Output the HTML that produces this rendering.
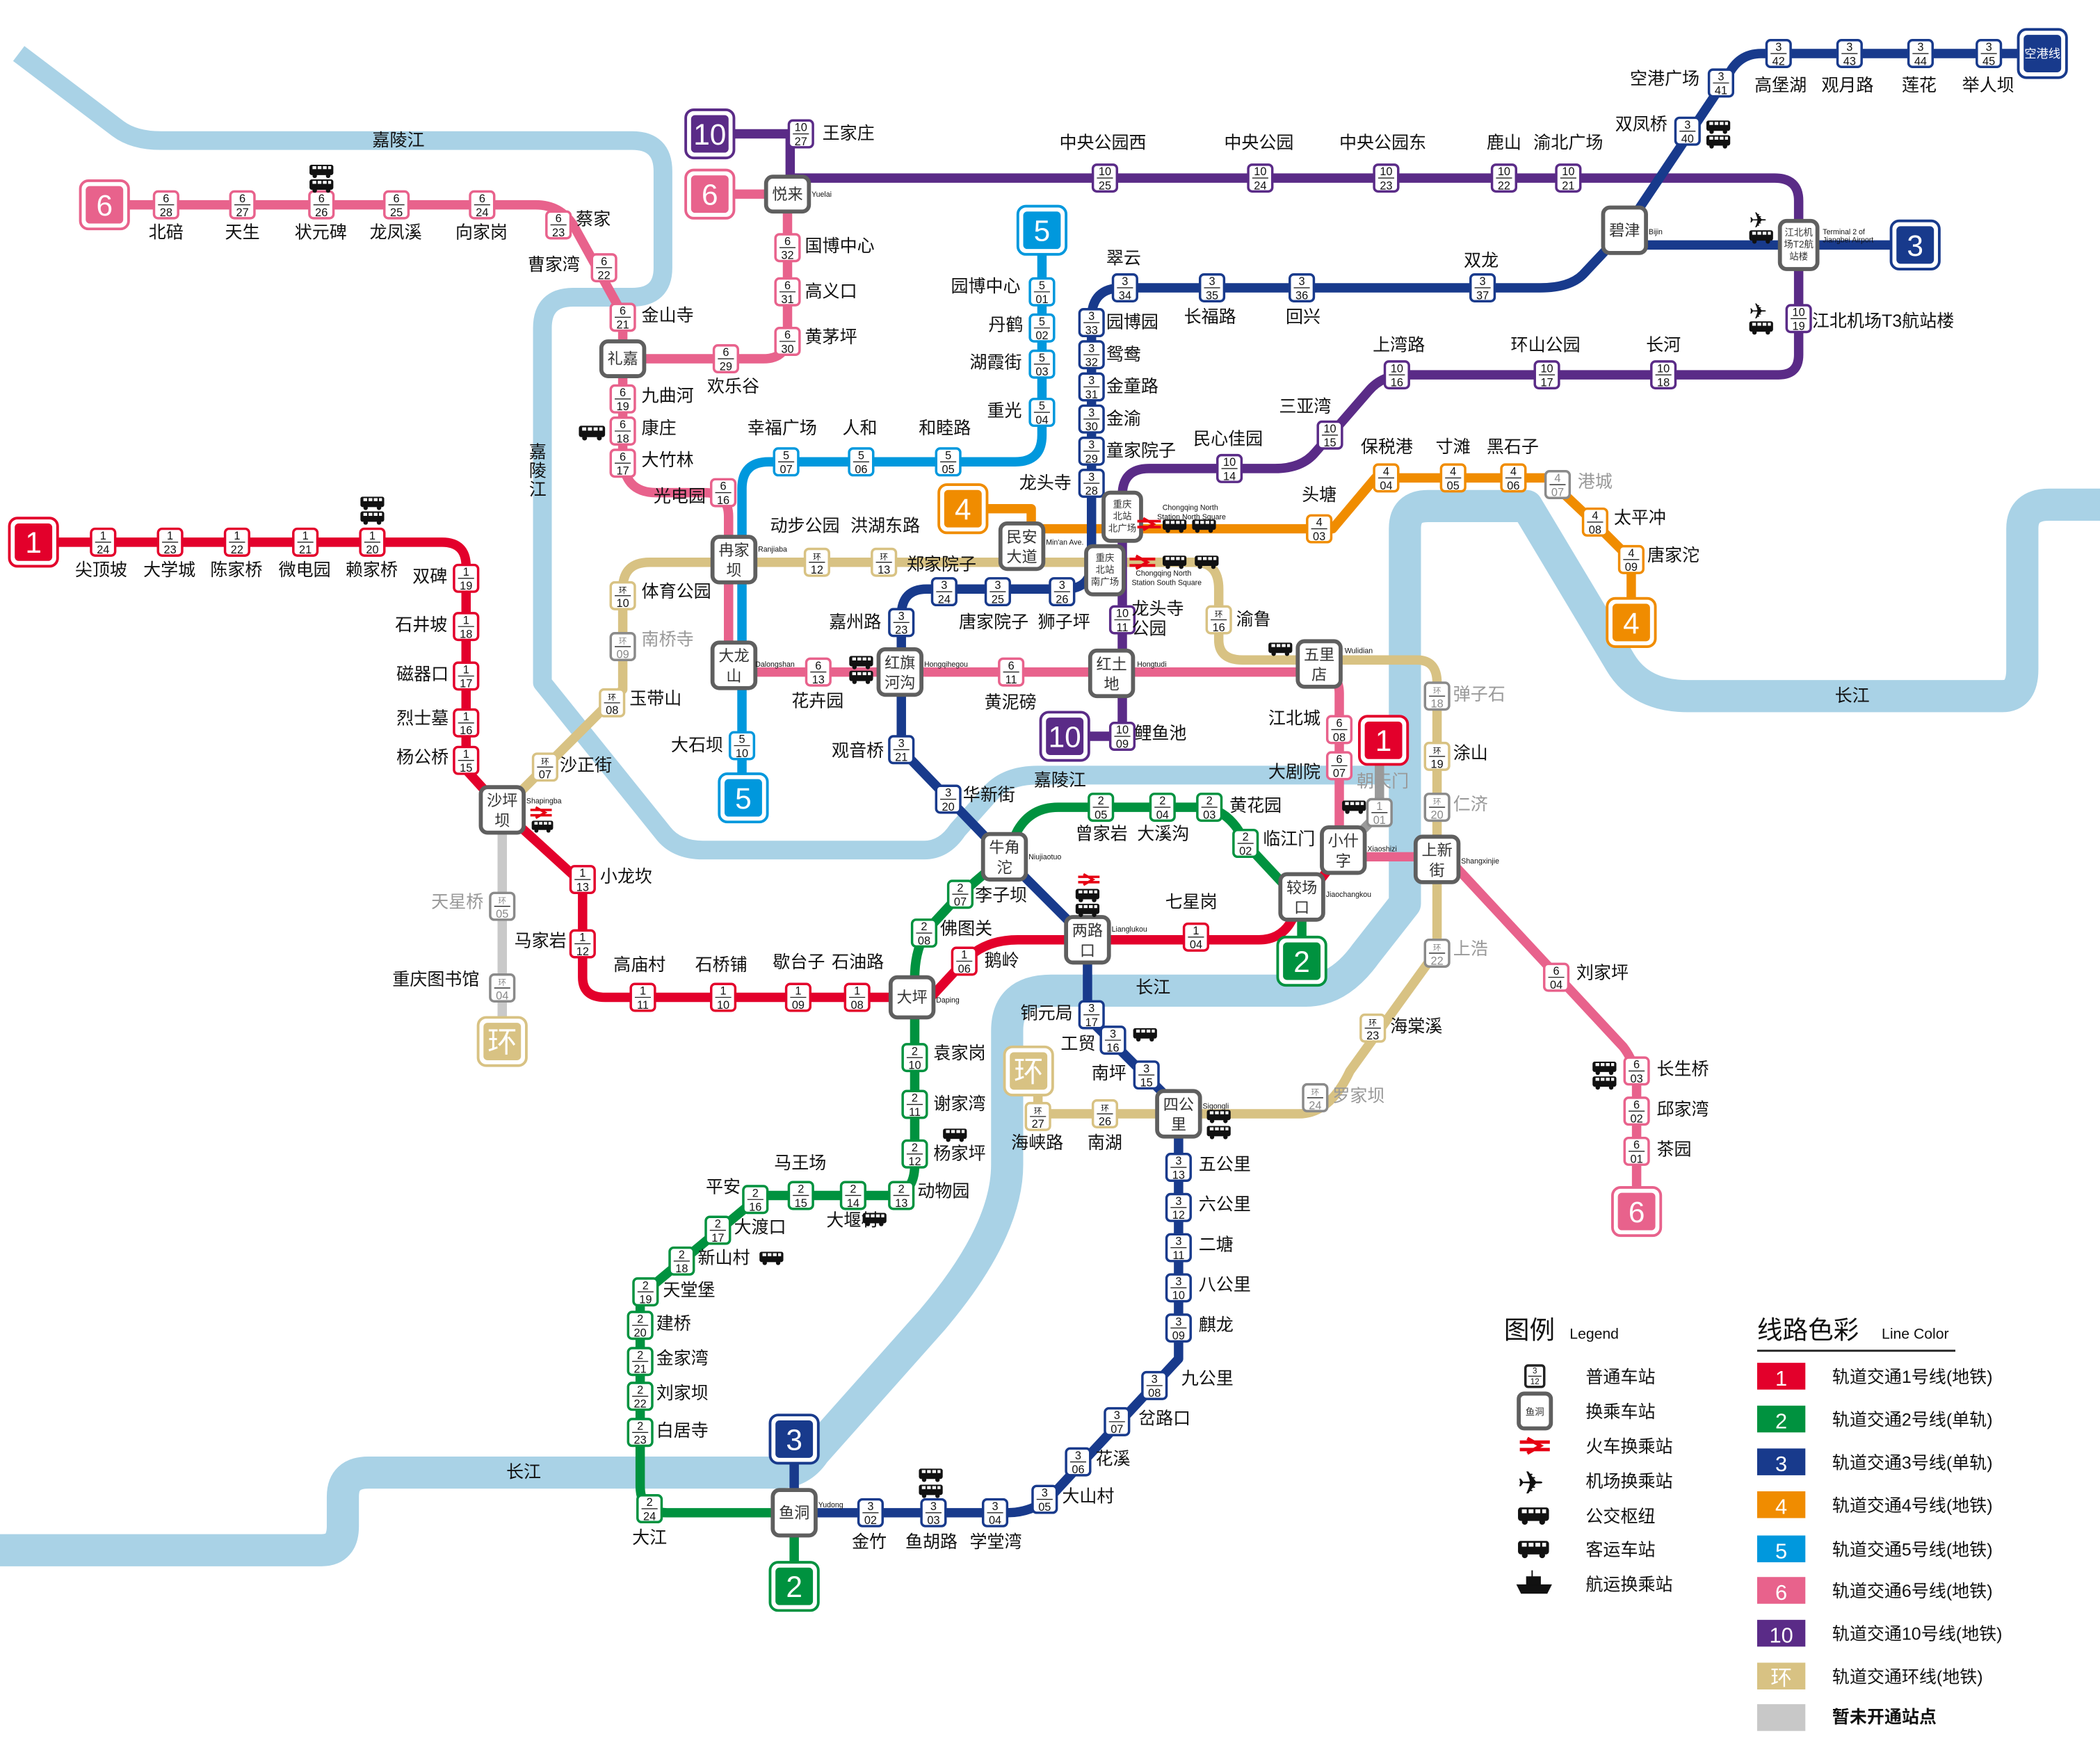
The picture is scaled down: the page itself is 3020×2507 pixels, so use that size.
<!DOCTYPE html>
<html><head><meta charset="utf-8"><style>
html,body{margin:0;padding:0;background:#fff}
svg{display:block}
text{font-family:"Liberation Sans","Noto Sans CJK SC",sans-serif;fill:#111}
.m rect{fill:#fff;stroke:currentColor;stroke-width:1.8}
.m path{stroke:#222;stroke-width:0.7}
.m text{font-size:8.5px;text-anchor:middle}
.c1{color:#e3002b}.c2{color:#00923f}.c3{color:#183a8c}.c4{color:#f08c00}.c5{color:#0098dd}.c6{color:#e8628c}.c10{color:#5a2b87}.cl{color:#d8c283}.cg{color:#8a8a8a}
.cg text{fill:#888}
.x rect{fill:#fff;stroke:#5f5f5f;stroke-width:3}
.x text{font-size:11.5px;text-anchor:middle;fill:#333}
.n{font-size:13px}
.g{fill:#999}
.p{font-size:5px;fill:#333}
.e{font-size:5.5px;fill:#222}
.b text{font-size:22px;fill:#fff;text-anchor:middle}
.ln{fill:none;stroke-width:7;stroke-linecap:round;stroke-linejoin:round}
.rv{fill:none;stroke:#a9d2e6;stroke-linejoin:round}
</style></head><body>
<svg width="3020" height="2507" viewBox="0 0 1568 1302" preserveAspectRatio="none" xmlns="http://www.w3.org/2000/svg">
<defs>
<symbol id="bus" viewBox="0 0 16 9"><rect x="0" y="0" width="16" height="7" rx="1.5" fill="#111"/><rect x="2" y="1" width="2.5" height="2" fill="#fff"/><rect x="5.5" y="1" width="2.5" height="2" fill="#fff"/><rect x="9" y="1" width="2.5" height="2" fill="#fff"/><rect x="12.5" y="1" width="2" height="2" fill="#fff"/><circle cx="3.5" cy="7.5" r="1.5" fill="#111"/><circle cx="12.5" cy="7.5" r="1.5" fill="#111"/></symbol>
<symbol id="trn" viewBox="0 0 16 10"><path d="M0 3H16M0 7H16M4 1L11 5L4 9" stroke="#e60012" stroke-width="1.8" fill="none"/></symbol>
</defs>

<!-- rivers -->
<path class="rv" stroke-width="14" d="M14,40 L88,96 Q100,105 120,105 H472 Q495,105 495,128 V200 Q495,222 472,222 H428 Q405,222 405,245 V510 L495,622 Q505,635 525,635 H690 Q705,635 715,620 L740,592 Q752,579 775,579 H1040"/>
<path class="rv" stroke-width="24" d="M0,1158 H240 Q256,1158 256,1140 V1118 Q256,1100 275,1100 H580 Q598,1100 608,1085 L696,986 Q752,920 752,870 V770 Q752,740 785,740 H975 Q1000,740 1020,712 L1049,675 V395 Q1049,378 1066,378 H1140 L1210,495 Q1225,520 1260,520 H1495 Q1510,520 1510,500 V395 Q1510,377 1530,377 H1568"/>
<text x="278" y="109" class="n">嘉陵江</text>
<text x="395" y="342" class="n">嘉</text><text x="395" y="356" class="n">陵</text><text x="395" y="370" class="n">江</text>
<text x="772" y="587" class="n">嘉陵江</text>
<text x="848" y="742" class="n">长江</text>
<text x="378" y="1104" class="n">长江</text>
<text x="1370" y="524" class="n">长江</text>

<!-- lines -->
<path class="ln" stroke="#d8c283" d="M375,605 L465,515 V440 Q465,420 485,420 H892 Q910,420 910,440 V478 Q910,493 928,493 H1058 Q1073,493 1073,510 V710 L1008,800 Q993,832 970,832 H775 V815"/>
<path class="ln" stroke="#c9c9c9" d="M375,620 V762"/>
<path class="ln" stroke="#e8628c" d="M93,153 H400 Q418,153 428,168 L465,235 V340 Q465,368 490,368 H526 Q544,368 544,386 V502 H985 Q1000,502 1000,518 V622 Q1000,640 1018,640 H1080 L1212,782 Q1222,795 1222,812 V890"/>
<path class="ln" stroke="#e8628c" d="M465,268 H570 Q588,268 588,250 V145 H545"/>
<path class="ln" stroke="#0098dd" d="M778,190 V325 Q778,345 758,345 H574 Q554,345 554,365 V580"/>
<path class="ln" stroke="#f08c00" d="M735,380 H770 V395 H995 L1027,357 H1155 L1190,390 L1218,418 V450"/>
<path class="ln" stroke="#5a2b87" d="M545,100 H590 V133 H1325 Q1343,133 1343,150 V265 Q1343,280 1328,280 H1050 Q1032,280 1022,292 L982,338 Q972,350 952,350 H858 Q838,350 838,370 V550 H810"/>
<path class="ln" stroke="#183a8c" d="M1510,40 H1315 Q1298,40 1290,57 L1213,172 L1182,205 Q1172,215 1150,215 H838 Q815,215 815,238 V420 Q815,440 795,440 H692 Q673,440 673,460 V560 L750,640 L812,702 V760 L880,828 V1015 L790,1112 Q775,1130 752,1130 H593 V1090"/>
<path class="ln" stroke="#183a8c" d="M1213,183 H1413"/>
<path class="ln" stroke="#00923f" d="M972,675 L930,630 Q918,603 895,603 H790 Q770,603 760,620 L750,640 L717,668 L692,695 Q683,710 683,730 V870 Q683,893 663,893 H568 L478,968 V1110 Q478,1130 498,1130 H593 V1170"/>
<path class="ln" stroke="#00923f" d="M972,675 V705"/>
<path class="ln" stroke="#e3002b" d="M40,405 H330 Q348,405 348,423 V575 L378,608 L435,660 V730 Q435,745 452,745 H695 L720,718 Q735,702 760,702 H940 Q955,702 963,690 L972,675 L1003,635"/>
<path class="ln" stroke="#9a9a9a" stroke-width="5" d="M1003,635 L1030,607 V570"/>

<!-- badges -->
<g class="b" transform="translate(25,405)"><rect x="-18" y="-18" width="36" height="36" rx="6" fill="#fff" stroke="#e3002b" stroke-width="2"/><rect x="-14" y="-14" width="28" height="28" rx="3" fill="#e3002b"/><text y="8">1</text></g>
<g class="b" transform="translate(78,153)"><rect x="-18" y="-18" width="36" height="36" rx="6" fill="#fff" stroke="#e8628c" stroke-width="2"/><rect x="-14" y="-14" width="28" height="28" rx="3" fill="#e8628c"/><text y="8">6</text></g>
<g class="b" transform="translate(530,100)"><rect x="-18" y="-18" width="36" height="36" rx="6" fill="#fff" stroke="#5a2b87" stroke-width="2"/><rect x="-14" y="-14" width="28" height="28" rx="3" fill="#5a2b87"/><text y="8">10</text></g>
<g class="b" transform="translate(530,145)"><rect x="-18" y="-18" width="36" height="36" rx="6" fill="#fff" stroke="#e8628c" stroke-width="2"/><rect x="-14" y="-14" width="28" height="28" rx="3" fill="#e8628c"/><text y="8">6</text></g>
<g class="b" transform="translate(778,172)"><rect x="-18" y="-18" width="36" height="36" rx="6" fill="#fff" stroke="#0098dd" stroke-width="2"/><rect x="-14" y="-14" width="28" height="28" rx="3" fill="#0098dd"/><text y="8">5</text></g>
<g class="b" transform="translate(719,380)"><rect x="-18" y="-18" width="36" height="36" rx="6" fill="#fff" stroke="#f08c00" stroke-width="2"/><rect x="-14" y="-14" width="28" height="28" rx="3" fill="#f08c00"/><text y="8">4</text></g>
<g class="b" transform="translate(555,596)"><rect x="-18" y="-18" width="36" height="36" rx="6" fill="#fff" stroke="#0098dd" stroke-width="2"/><rect x="-14" y="-14" width="28" height="28" rx="3" fill="#0098dd"/><text y="8">5</text></g>
<g class="b" transform="translate(795,550)"><rect x="-18" y="-18" width="36" height="36" rx="6" fill="#fff" stroke="#5a2b87" stroke-width="2"/><rect x="-14" y="-14" width="28" height="28" rx="3" fill="#5a2b87"/><text y="8">10</text></g>
<g class="b" transform="translate(1033,553)"><rect x="-18" y="-18" width="36" height="36" rx="6" fill="#fff" stroke="#e3002b" stroke-width="2"/><rect x="-14" y="-14" width="28" height="28" rx="3" fill="#e3002b"/><text y="8">1</text></g>
<g class="b" transform="translate(972,718)"><rect x="-18" y="-18" width="36" height="36" rx="6" fill="#fff" stroke="#00923f" stroke-width="2"/><rect x="-14" y="-14" width="28" height="28" rx="3" fill="#00923f"/><text y="8">2</text></g>
<g class="b" transform="translate(375,778)"><rect x="-18" y="-18" width="36" height="36" rx="6" fill="#fff" stroke="#d8c283" stroke-width="2"/><rect x="-14" y="-14" width="28" height="28" rx="3" fill="#d8c283"/><text y="8">环</text></g>
<g class="b" transform="translate(768,800)"><rect x="-18" y="-18" width="36" height="36" rx="6" fill="#fff" stroke="#d8c283" stroke-width="2"/><rect x="-14" y="-14" width="28" height="28" rx="3" fill="#d8c283"/><text y="8">环</text></g>
<g class="b" transform="translate(1218,465)"><rect x="-18" y="-18" width="36" height="36" rx="6" fill="#fff" stroke="#f08c00" stroke-width="2"/><rect x="-14" y="-14" width="28" height="28" rx="3" fill="#f08c00"/><text y="8">4</text></g>
<g class="b" transform="translate(1222,905)"><rect x="-18" y="-18" width="36" height="36" rx="6" fill="#fff" stroke="#e8628c" stroke-width="2"/><rect x="-14" y="-14" width="28" height="28" rx="3" fill="#e8628c"/><text y="8">6</text></g>
<g class="b" transform="translate(593,1075)"><rect x="-18" y="-18" width="36" height="36" rx="6" fill="#fff" stroke="#183a8c" stroke-width="2"/><rect x="-14" y="-14" width="28" height="28" rx="3" fill="#183a8c"/><text y="8">3</text></g>
<g class="b" transform="translate(593,1185)"><rect x="-18" y="-18" width="36" height="36" rx="6" fill="#fff" stroke="#00923f" stroke-width="2"/><rect x="-14" y="-14" width="28" height="28" rx="3" fill="#00923f"/><text y="8">2</text></g>
<g class="b" transform="translate(1430,183)"><rect x="-18" y="-18" width="36" height="36" rx="6" fill="#fff" stroke="#183a8c" stroke-width="2"/><rect x="-14" y="-14" width="28" height="28" rx="3" fill="#183a8c"/><text y="8">3</text></g>
<g class="b" transform="translate(1525,40)"><rect x="-18" y="-18" width="36" height="36" rx="6" fill="#fff" stroke="#183a8c" stroke-width="2"/><rect x="-14" y="-14" width="28" height="28" rx="3" fill="#183a8c"/><text y="3" style="font-size:9px">空港线</text></g>

<!-- markers line 1 -->
<g class="m c1" transform="translate(77,405)"><rect x="-9" y="-10" width="18" height="20" rx="3"/><path d="M-6 0h12"/><text y="-2">1</text><text y="8.5">24</text></g>
<g class="m c1" transform="translate(127,405)"><rect x="-9" y="-10" width="18" height="20" rx="3"/><path d="M-6 0h12"/><text y="-2">1</text><text y="8.5">23</text></g>
<g class="m c1" transform="translate(177,405)"><rect x="-9" y="-10" width="18" height="20" rx="3"/><path d="M-6 0h12"/><text y="-2">1</text><text y="8.5">22</text></g>
<g class="m c1" transform="translate(228,405)"><rect x="-9" y="-10" width="18" height="20" rx="3"/><path d="M-6 0h12"/><text y="-2">1</text><text y="8.5">21</text></g>
<g class="m c1" transform="translate(278,405)"><rect x="-9" y="-10" width="18" height="20" rx="3"/><path d="M-6 0h12"/><text y="-2">1</text><text y="8.5">20</text></g>
<g class="m c1" transform="translate(348,432)"><rect x="-9" y="-10" width="18" height="20" rx="3"/><path d="M-6 0h12"/><text y="-2">1</text><text y="8.5">19</text></g>
<g class="m c1" transform="translate(348,468)"><rect x="-9" y="-10" width="18" height="20" rx="3"/><path d="M-6 0h12"/><text y="-2">1</text><text y="8.5">18</text></g>
<g class="m c1" transform="translate(348,505)"><rect x="-9" y="-10" width="18" height="20" rx="3"/><path d="M-6 0h12"/><text y="-2">1</text><text y="8.5">17</text></g>
<g class="m c1" transform="translate(348,540)"><rect x="-9" y="-10" width="18" height="20" rx="3"/><path d="M-6 0h12"/><text y="-2">1</text><text y="8.5">16</text></g>
<g class="m c1" transform="translate(348,568)"><rect x="-9" y="-10" width="18" height="20" rx="3"/><path d="M-6 0h12"/><text y="-2">1</text><text y="8.5">15</text></g>
<g class="m c1" transform="translate(435,657)"><rect x="-9" y="-10" width="18" height="20" rx="3"/><path d="M-6 0h12"/><text y="-2">1</text><text y="8.5">13</text></g>
<g class="m c1" transform="translate(435,705)"><rect x="-9" y="-10" width="18" height="20" rx="3"/><path d="M-6 0h12"/><text y="-2">1</text><text y="8.5">12</text></g>
<g class="m c1" transform="translate(480,745)"><rect x="-9" y="-10" width="18" height="20" rx="3"/><path d="M-6 0h12"/><text y="-2">1</text><text y="8.5">11</text></g>
<g class="m c1" transform="translate(540,745)"><rect x="-9" y="-10" width="18" height="20" rx="3"/><path d="M-6 0h12"/><text y="-2">1</text><text y="8.5">10</text></g>
<g class="m c1" transform="translate(596,745)"><rect x="-9" y="-10" width="18" height="20" rx="3"/><path d="M-6 0h12"/><text y="-2">1</text><text y="8.5">09</text></g>
<g class="m c1" transform="translate(640,745)"><rect x="-9" y="-10" width="18" height="20" rx="3"/><path d="M-6 0h12"/><text y="-2">1</text><text y="8.5">08</text></g>
<g class="m c1" transform="translate(720,718)"><rect x="-9" y="-10" width="18" height="20" rx="3"/><path d="M-6 0h12"/><text y="-2">1</text><text y="8.5">06</text></g>
<g class="m c1" transform="translate(893,700)"><rect x="-9" y="-10" width="18" height="20" rx="3"/><path d="M-6 0h12"/><text y="-2">1</text><text y="8.5">04</text></g>
<g class="m cg" transform="translate(1030,607)"><rect x="-9" y="-10" width="18" height="20" rx="3"/><path d="M-6 0h12"/><text y="-2">1</text><text y="8.5">01</text></g>

<!-- line 6 -->
<g class="m c6" transform="translate(124,153)"><rect x="-9" y="-10" width="18" height="20" rx="3"/><path d="M-6 0h12"/><text y="-2">6</text><text y="8.5">28</text></g>
<g class="m c6" transform="translate(181,153)"><rect x="-9" y="-10" width="18" height="20" rx="3"/><path d="M-6 0h12"/><text y="-2">6</text><text y="8.5">27</text></g>
<g class="m c6" transform="translate(240,153)"><rect x="-9" y="-10" width="18" height="20" rx="3"/><path d="M-6 0h12"/><text y="-2">6</text><text y="8.5">26</text></g>
<g class="m c6" transform="translate(296,153)"><rect x="-9" y="-10" width="18" height="20" rx="3"/><path d="M-6 0h12"/><text y="-2">6</text><text y="8.5">25</text></g>
<g class="m c6" transform="translate(360,153)"><rect x="-9" y="-10" width="18" height="20" rx="3"/><path d="M-6 0h12"/><text y="-2">6</text><text y="8.5">24</text></g>
<g class="m c6" transform="translate(417,168)"><rect x="-9" y="-10" width="18" height="20" rx="3"/><path d="M-6 0h12"/><text y="-2">6</text><text y="8.5">23</text></g>
<g class="m c6" transform="translate(451,200)"><rect x="-9" y="-10" width="18" height="20" rx="3"/><path d="M-6 0h12"/><text y="-2">6</text><text y="8.5">22</text></g>
<g class="m c6" transform="translate(465,237)"><rect x="-9" y="-10" width="18" height="20" rx="3"/><path d="M-6 0h12"/><text y="-2">6</text><text y="8.5">21</text></g>
<g class="m c6" transform="translate(465,298)"><rect x="-9" y="-10" width="18" height="20" rx="3"/><path d="M-6 0h12"/><text y="-2">6</text><text y="8.5">19</text></g>
<g class="m c6" transform="translate(465,322)"><rect x="-9" y="-10" width="18" height="20" rx="3"/><path d="M-6 0h12"/><text y="-2">6</text><text y="8.5">18</text></g>
<g class="m c6" transform="translate(465,346)"><rect x="-9" y="-10" width="18" height="20" rx="3"/><path d="M-6 0h12"/><text y="-2">6</text><text y="8.5">17</text></g>
<g class="m c6" transform="translate(540,368)"><rect x="-9" y="-10" width="18" height="20" rx="3"/><path d="M-6 0h12"/><text y="-2">6</text><text y="8.5">16</text></g>
<g class="m c6" transform="translate(611,502)"><rect x="-9" y="-10" width="18" height="20" rx="3"/><path d="M-6 0h12"/><text y="-2">6</text><text y="8.5">13</text></g>
<g class="m c6" transform="translate(755,502)"><rect x="-9" y="-10" width="18" height="20" rx="3"/><path d="M-6 0h12"/><text y="-2">6</text><text y="8.5">11</text></g>
<g class="m c6" transform="translate(1000,545)"><rect x="-9" y="-10" width="18" height="20" rx="3"/><path d="M-6 0h12"/><text y="-2">6</text><text y="8.5">08</text></g>
<g class="m c6" transform="translate(1000,572)"><rect x="-9" y="-10" width="18" height="20" rx="3"/><path d="M-6 0h12"/><text y="-2">6</text><text y="8.5">07</text></g>
<g class="m c6" transform="translate(1162,730)"><rect x="-9" y="-10" width="18" height="20" rx="3"/><path d="M-6 0h12"/><text y="-2">6</text><text y="8.5">04</text></g>
<g class="m c6" transform="translate(1222,800)"><rect x="-9" y="-10" width="18" height="20" rx="3"/><path d="M-6 0h12"/><text y="-2">6</text><text y="8.5">03</text></g>
<g class="m c6" transform="translate(1222,830)"><rect x="-9" y="-10" width="18" height="20" rx="3"/><path d="M-6 0h12"/><text y="-2">6</text><text y="8.5">02</text></g>
<g class="m c6" transform="translate(1222,860)"><rect x="-9" y="-10" width="18" height="20" rx="3"/><path d="M-6 0h12"/><text y="-2">6</text><text y="8.5">01</text></g>
<g class="m c6" transform="translate(542,268)"><rect x="-9" y="-10" width="18" height="20" rx="3"/><path d="M-6 0h12"/><text y="-2">6</text><text y="8.5">29</text></g>
<g class="m c6" transform="translate(588,255)"><rect x="-9" y="-10" width="18" height="20" rx="3"/><path d="M-6 0h12"/><text y="-2">6</text><text y="8.5">30</text></g>
<g class="m c6" transform="translate(588,218)"><rect x="-9" y="-10" width="18" height="20" rx="3"/><path d="M-6 0h12"/><text y="-2">6</text><text y="8.5">31</text></g>
<g class="m c6" transform="translate(588,185)"><rect x="-9" y="-10" width="18" height="20" rx="3"/><path d="M-6 0h12"/><text y="-2">6</text><text y="8.5">32</text></g>

<!-- line 5 -->
<g class="m c5" transform="translate(778,218)"><rect x="-9" y="-10" width="18" height="20" rx="3"/><path d="M-6 0h12"/><text y="-2">5</text><text y="8.5">01</text></g>
<g class="m c5" transform="translate(778,245)"><rect x="-9" y="-10" width="18" height="20" rx="3"/><path d="M-6 0h12"/><text y="-2">5</text><text y="8.5">02</text></g>
<g class="m c5" transform="translate(778,272)"><rect x="-9" y="-10" width="18" height="20" rx="3"/><path d="M-6 0h12"/><text y="-2">5</text><text y="8.5">03</text></g>
<g class="m c5" transform="translate(778,308)"><rect x="-9" y="-10" width="18" height="20" rx="3"/><path d="M-6 0h12"/><text y="-2">5</text><text y="8.5">04</text></g>
<g class="m c5" transform="translate(708,345)"><rect x="-9" y="-10" width="18" height="20" rx="3"/><path d="M-6 0h12"/><text y="-2">5</text><text y="8.5">05</text></g>
<g class="m c5" transform="translate(643,345)"><rect x="-9" y="-10" width="18" height="20" rx="3"/><path d="M-6 0h12"/><text y="-2">5</text><text y="8.5">06</text></g>
<g class="m c5" transform="translate(587,345)"><rect x="-9" y="-10" width="18" height="20" rx="3"/><path d="M-6 0h12"/><text y="-2">5</text><text y="8.5">07</text></g>
<g class="m c5" transform="translate(554,557)"><rect x="-9" y="-10" width="18" height="20" rx="3"/><path d="M-6 0h12"/><text y="-2">5</text><text y="8.5">10</text></g>

<!-- line 3 -->
<g class="m c3" transform="translate(840,215)"><rect x="-9" y="-10" width="18" height="20" rx="3"/><path d="M-6 0h12"/><text y="-2">3</text><text y="8.5">34</text></g>
<g class="m c3" transform="translate(905,215)"><rect x="-9" y="-10" width="18" height="20" rx="3"/><path d="M-6 0h12"/><text y="-2">3</text><text y="8.5">35</text></g>
<g class="m c3" transform="translate(972,215)"><rect x="-9" y="-10" width="18" height="20" rx="3"/><path d="M-6 0h12"/><text y="-2">3</text><text y="8.5">36</text></g>
<g class="m c3" transform="translate(1107,215)"><rect x="-9" y="-10" width="18" height="20" rx="3"/><path d="M-6 0h12"/><text y="-2">3</text><text y="8.5">37</text></g>
<g class="m c3" transform="translate(815,241)"><rect x="-9" y="-10" width="18" height="20" rx="3"/><path d="M-6 0h12"/><text y="-2">3</text><text y="8.5">33</text></g>
<g class="m c3" transform="translate(815,265)"><rect x="-9" y="-10" width="18" height="20" rx="3"/><path d="M-6 0h12"/><text y="-2">3</text><text y="8.5">32</text></g>
<g class="m c3" transform="translate(815,289)"><rect x="-9" y="-10" width="18" height="20" rx="3"/><path d="M-6 0h12"/><text y="-2">3</text><text y="8.5">31</text></g>
<g class="m c3" transform="translate(815,313)"><rect x="-9" y="-10" width="18" height="20" rx="3"/><path d="M-6 0h12"/><text y="-2">3</text><text y="8.5">30</text></g>
<g class="m c3" transform="translate(815,337)"><rect x="-9" y="-10" width="18" height="20" rx="3"/><path d="M-6 0h12"/><text y="-2">3</text><text y="8.5">29</text></g>
<g class="m c3" transform="translate(815,361)"><rect x="-9" y="-10" width="18" height="20" rx="3"/><path d="M-6 0h12"/><text y="-2">3</text><text y="8.5">28</text></g>
<g class="m c3" transform="translate(793,442)"><rect x="-9" y="-10" width="18" height="20" rx="3"/><path d="M-6 0h12"/><text y="-2">3</text><text y="8.5">26</text></g>
<g class="m c3" transform="translate(745,442)"><rect x="-9" y="-10" width="18" height="20" rx="3"/><path d="M-6 0h12"/><text y="-2">3</text><text y="8.5">25</text></g>
<g class="m c3" transform="translate(705,442)"><rect x="-9" y="-10" width="18" height="20" rx="3"/><path d="M-6 0h12"/><text y="-2">3</text><text y="8.5">24</text></g>
<g class="m c3" transform="translate(673,465)"><rect x="-9" y="-10" width="18" height="20" rx="3"/><path d="M-6 0h12"/><text y="-2">3</text><text y="8.5">23</text></g>
<g class="m c3" transform="translate(673,560)"><rect x="-9" y="-10" width="18" height="20" rx="3"/><path d="M-6 0h12"/><text y="-2">3</text><text y="8.5">21</text></g>
<g class="m c3" transform="translate(708,597)"><rect x="-9" y="-10" width="18" height="20" rx="3"/><path d="M-6 0h12"/><text y="-2">3</text><text y="8.5">20</text></g>
<g class="m c3" transform="translate(815,758)"><rect x="-9" y="-10" width="18" height="20" rx="3"/><path d="M-6 0h12"/><text y="-2">3</text><text y="8.5">17</text></g>
<g class="m c3" transform="translate(831,777)"><rect x="-9" y="-10" width="18" height="20" rx="3"/><path d="M-6 0h12"/><text y="-2">3</text><text y="8.5">16</text></g>
<g class="m c3" transform="translate(856,803)"><rect x="-9" y="-10" width="18" height="20" rx="3"/><path d="M-6 0h12"/><text y="-2">3</text><text y="8.5">15</text></g>
<g class="m c3" transform="translate(880,872)"><rect x="-9" y="-10" width="18" height="20" rx="3"/><path d="M-6 0h12"/><text y="-2">3</text><text y="8.5">13</text></g>
<g class="m c3" transform="translate(880,902)"><rect x="-9" y="-10" width="18" height="20" rx="3"/><path d="M-6 0h12"/><text y="-2">3</text><text y="8.5">12</text></g>
<g class="m c3" transform="translate(880,932)"><rect x="-9" y="-10" width="18" height="20" rx="3"/><path d="M-6 0h12"/><text y="-2">3</text><text y="8.5">11</text></g>
<g class="m c3" transform="translate(880,962)"><rect x="-9" y="-10" width="18" height="20" rx="3"/><path d="M-6 0h12"/><text y="-2">3</text><text y="8.5">10</text></g>
<g class="m c3" transform="translate(880,992)"><rect x="-9" y="-10" width="18" height="20" rx="3"/><path d="M-6 0h12"/><text y="-2">3</text><text y="8.5">09</text></g>
<g class="m c3" transform="translate(862,1035)"><rect x="-9" y="-10" width="18" height="20" rx="3"/><path d="M-6 0h12"/><text y="-2">3</text><text y="8.5">08</text></g>
<g class="m c3" transform="translate(834,1062)"><rect x="-9" y="-10" width="18" height="20" rx="3"/><path d="M-6 0h12"/><text y="-2">3</text><text y="8.5">07</text></g>
<g class="m c3" transform="translate(805,1092)"><rect x="-9" y="-10" width="18" height="20" rx="3"/><path d="M-6 0h12"/><text y="-2">3</text><text y="8.5">06</text></g>
<g class="m c3" transform="translate(780,1120)"><rect x="-9" y="-10" width="18" height="20" rx="3"/><path d="M-6 0h12"/><text y="-2">3</text><text y="8.5">05</text></g>
<g class="m c3" transform="translate(743,1130)"><rect x="-9" y="-10" width="18" height="20" rx="3"/><path d="M-6 0h12"/><text y="-2">3</text><text y="8.5">04</text></g>
<g class="m c3" transform="translate(697,1130)"><rect x="-9" y="-10" width="18" height="20" rx="3"/><path d="M-6 0h12"/><text y="-2">3</text><text y="8.5">03</text></g>
<g class="m c3" transform="translate(650,1130)"><rect x="-9" y="-10" width="18" height="20" rx="3"/><path d="M-6 0h12"/><text y="-2">3</text><text y="8.5">02</text></g>
<g class="m c3" transform="translate(1260,98)"><rect x="-9" y="-10" width="18" height="20" rx="3"/><path d="M-6 0h12"/><text y="-2">3</text><text y="8.5">40</text></g>
<g class="m c3" transform="translate(1285,62)"><rect x="-9" y="-10" width="18" height="20" rx="3"/><path d="M-6 0h12"/><text y="-2">3</text><text y="8.5">41</text></g>
<g class="m c3" transform="translate(1328,40)"><rect x="-9" y="-10" width="18" height="20" rx="3"/><path d="M-6 0h12"/><text y="-2">3</text><text y="8.5">42</text></g>
<g class="m c3" transform="translate(1381,40)"><rect x="-9" y="-10" width="18" height="20" rx="3"/><path d="M-6 0h12"/><text y="-2">3</text><text y="8.5">43</text></g>
<g class="m c3" transform="translate(1434,40)"><rect x="-9" y="-10" width="18" height="20" rx="3"/><path d="M-6 0h12"/><text y="-2">3</text><text y="8.5">44</text></g>
<g class="m c3" transform="translate(1485,40)"><rect x="-9" y="-10" width="18" height="20" rx="3"/><path d="M-6 0h12"/><text y="-2">3</text><text y="8.5">45</text></g>

<!-- line 10 -->
<g class="m c10" transform="translate(598,100)"><rect x="-9" y="-10" width="18" height="20" rx="3"/><path d="M-6 0h12"/><text y="-2">10</text><text y="8.5">27</text></g>
<g class="m c10" transform="translate(825,133)"><rect x="-9" y="-10" width="18" height="20" rx="3"/><path d="M-6 0h12"/><text y="-2">10</text><text y="8.5">25</text></g>
<g class="m c10" transform="translate(941,133)"><rect x="-9" y="-10" width="18" height="20" rx="3"/><path d="M-6 0h12"/><text y="-2">10</text><text y="8.5">24</text></g>
<g class="m c10" transform="translate(1035,133)"><rect x="-9" y="-10" width="18" height="20" rx="3"/><path d="M-6 0h12"/><text y="-2">10</text><text y="8.5">23</text></g>
<g class="m c10" transform="translate(1123,133)"><rect x="-9" y="-10" width="18" height="20" rx="3"/><path d="M-6 0h12"/><text y="-2">10</text><text y="8.5">22</text></g>
<g class="m c10" transform="translate(1171,133)"><rect x="-9" y="-10" width="18" height="20" rx="3"/><path d="M-6 0h12"/><text y="-2">10</text><text y="8.5">21</text></g>
<g class="m c10" transform="translate(1343,238)"><rect x="-9" y="-10" width="18" height="20" rx="3"/><path d="M-6 0h12"/><text y="-2">10</text><text y="8.5">19</text></g>
<g class="m c10" transform="translate(1242,280)"><rect x="-9" y="-10" width="18" height="20" rx="3"/><path d="M-6 0h12"/><text y="-2">10</text><text y="8.5">18</text></g>
<g class="m c10" transform="translate(1155,280)"><rect x="-9" y="-10" width="18" height="20" rx="3"/><path d="M-6 0h12"/><text y="-2">10</text><text y="8.5">17</text></g>
<g class="m c10" transform="translate(1043,280)"><rect x="-9" y="-10" width="18" height="20" rx="3"/><path d="M-6 0h12"/><text y="-2">10</text><text y="8.5">16</text></g>
<g class="m c10" transform="translate(993,325)"><rect x="-9" y="-10" width="18" height="20" rx="3"/><path d="M-6 0h12"/><text y="-2">10</text><text y="8.5">15</text></g>
<g class="m c10" transform="translate(918,350)"><rect x="-9" y="-10" width="18" height="20" rx="3"/><path d="M-6 0h12"/><text y="-2">10</text><text y="8.5">14</text></g>
<g class="m c10" transform="translate(838,463)"><rect x="-9" y="-10" width="18" height="20" rx="3"/><path d="M-6 0h12"/><text y="-2">10</text><text y="8.5">11</text></g>
<g class="m c10" transform="translate(838,550)"><rect x="-9" y="-10" width="18" height="20" rx="3"/><path d="M-6 0h12"/><text y="-2">10</text><text y="8.5">09</text></g>

<!-- line 4 -->
<g class="m c4" transform="translate(985,395)"><rect x="-9" y="-10" width="18" height="20" rx="3"/><path d="M-6 0h12"/><text y="-2">4</text><text y="8.5">03</text></g>
<g class="m c4" transform="translate(1035,357)"><rect x="-9" y="-10" width="18" height="20" rx="3"/><path d="M-6 0h12"/><text y="-2">4</text><text y="8.5">04</text></g>
<g class="m c4" transform="translate(1085,357)"><rect x="-9" y="-10" width="18" height="20" rx="3"/><path d="M-6 0h12"/><text y="-2">4</text><text y="8.5">05</text></g>
<g class="m c4" transform="translate(1130,357)"><rect x="-9" y="-10" width="18" height="20" rx="3"/><path d="M-6 0h12"/><text y="-2">4</text><text y="8.5">06</text></g>
<g class="m cg" transform="translate(1163,362)"><rect x="-9" y="-10" width="18" height="20" rx="3"/><path d="M-6 0h12"/><text y="-2">4</text><text y="8.5">07</text></g>
<g class="m c4" transform="translate(1191,390)"><rect x="-9" y="-10" width="18" height="20" rx="3"/><path d="M-6 0h12"/><text y="-2">4</text><text y="8.5">08</text></g>
<g class="m c4" transform="translate(1218,418)"><rect x="-9" y="-10" width="18" height="20" rx="3"/><path d="M-6 0h12"/><text y="-2">4</text><text y="8.5">09</text></g>

<!-- line 2 -->
<g class="m c2" transform="translate(822,603)"><rect x="-9" y="-10" width="18" height="20" rx="3"/><path d="M-6 0h12"/><text y="-2">2</text><text y="8.5">05</text></g>
<g class="m c2" transform="translate(868,603)"><rect x="-9" y="-10" width="18" height="20" rx="3"/><path d="M-6 0h12"/><text y="-2">2</text><text y="8.5">04</text></g>
<g class="m c2" transform="translate(903,603)"><rect x="-9" y="-10" width="18" height="20" rx="3"/><path d="M-6 0h12"/><text y="-2">2</text><text y="8.5">03</text></g>
<g class="m c2" transform="translate(930,630)"><rect x="-9" y="-10" width="18" height="20" rx="3"/><path d="M-6 0h12"/><text y="-2">2</text><text y="8.5">02</text></g>
<g class="m c2" transform="translate(717,668)"><rect x="-9" y="-10" width="18" height="20" rx="3"/><path d="M-6 0h12"/><text y="-2">2</text><text y="8.5">07</text></g>
<g class="m c2" transform="translate(690,697)"><rect x="-9" y="-10" width="18" height="20" rx="3"/><path d="M-6 0h12"/><text y="-2">2</text><text y="8.5">08</text></g>
<g class="m c2" transform="translate(683,790)"><rect x="-9" y="-10" width="18" height="20" rx="3"/><path d="M-6 0h12"/><text y="-2">2</text><text y="8.5">10</text></g>
<g class="m c2" transform="translate(683,825)"><rect x="-9" y="-10" width="18" height="20" rx="3"/><path d="M-6 0h12"/><text y="-2">2</text><text y="8.5">11</text></g>
<g class="m c2" transform="translate(683,862)"><rect x="-9" y="-10" width="18" height="20" rx="3"/><path d="M-6 0h12"/><text y="-2">2</text><text y="8.5">12</text></g>
<g class="m c2" transform="translate(673,893)"><rect x="-9" y="-10" width="18" height="20" rx="3"/><path d="M-6 0h12"/><text y="-2">2</text><text y="8.5">13</text></g>
<g class="m c2" transform="translate(637,893)"><rect x="-9" y="-10" width="18" height="20" rx="3"/><path d="M-6 0h12"/><text y="-2">2</text><text y="8.5">14</text></g>
<g class="m c2" transform="translate(598,893)"><rect x="-9" y="-10" width="18" height="20" rx="3"/><path d="M-6 0h12"/><text y="-2">2</text><text y="8.5">15</text></g>
<g class="m c2" transform="translate(564,896)"><rect x="-9" y="-10" width="18" height="20" rx="3"/><path d="M-6 0h12"/><text y="-2">2</text><text y="8.5">16</text></g>
<g class="m c2" transform="translate(536,919)"><rect x="-9" y="-10" width="18" height="20" rx="3"/><path d="M-6 0h12"/><text y="-2">2</text><text y="8.5">17</text></g>
<g class="m c2" transform="translate(509,942)"><rect x="-9" y="-10" width="18" height="20" rx="3"/><path d="M-6 0h12"/><text y="-2">2</text><text y="8.5">18</text></g>
<g class="m c2" transform="translate(482,965)"><rect x="-9" y="-10" width="18" height="20" rx="3"/><path d="M-6 0h12"/><text y="-2">2</text><text y="8.5">19</text></g>
<g class="m c2" transform="translate(478,990)"><rect x="-9" y="-10" width="18" height="20" rx="3"/><path d="M-6 0h12"/><text y="-2">2</text><text y="8.5">20</text></g>
<g class="m c2" transform="translate(478,1017)"><rect x="-9" y="-10" width="18" height="20" rx="3"/><path d="M-6 0h12"/><text y="-2">2</text><text y="8.5">21</text></g>
<g class="m c2" transform="translate(478,1043)"><rect x="-9" y="-10" width="18" height="20" rx="3"/><path d="M-6 0h12"/><text y="-2">2</text><text y="8.5">22</text></g>
<g class="m c2" transform="translate(478,1070)"><rect x="-9" y="-10" width="18" height="20" rx="3"/><path d="M-6 0h12"/><text y="-2">2</text><text y="8.5">23</text></g>
<g class="m c2" transform="translate(485,1127)"><rect x="-9" y="-10" width="18" height="20" rx="3"/><path d="M-6 0h12"/><text y="-2">2</text><text y="8.5">24</text></g>

<!-- loop -->
<g class="m cl" transform="translate(407,573)"><rect x="-9" y="-10" width="18" height="20" rx="3"/><path d="M-6 0h12"/><text y="-2" style="font-size:6px">环</text><text y="8.5">07</text></g>
<g class="m cl" transform="translate(457,525)"><rect x="-9" y="-10" width="18" height="20" rx="3"/><path d="M-6 0h12"/><text y="-2" style="font-size:6px">环</text><text y="8.5">08</text></g>
<g class="m cg" transform="translate(465,483)"><rect x="-9" y="-10" width="18" height="20" rx="3"/><path d="M-6 0h12"/><text y="-2" style="font-size:6px">环</text><text y="8.5">09</text></g>
<g class="m cl" transform="translate(465,445)"><rect x="-9" y="-10" width="18" height="20" rx="3"/><path d="M-6 0h12"/><text y="-2" style="font-size:6px">环</text><text y="8.5">10</text></g>
<g class="m cl" transform="translate(610,420)"><rect x="-9" y="-10" width="18" height="20" rx="3"/><path d="M-6 0h12"/><text y="-2" style="font-size:6px">环</text><text y="8.5">12</text></g>
<g class="m cl" transform="translate(660,420)"><rect x="-9" y="-10" width="18" height="20" rx="3"/><path d="M-6 0h12"/><text y="-2" style="font-size:6px">环</text><text y="8.5">13</text></g>
<g class="m cl" transform="translate(910,463)"><rect x="-9" y="-10" width="18" height="20" rx="3"/><path d="M-6 0h12"/><text y="-2" style="font-size:6px">环</text><text y="8.5">16</text></g>
<g class="m cg" transform="translate(1073,520)"><rect x="-9" y="-10" width="18" height="20" rx="3"/><path d="M-6 0h12"/><text y="-2" style="font-size:6px">环</text><text y="8.5">18</text></g>
<g class="m cl" transform="translate(1073,565)"><rect x="-9" y="-10" width="18" height="20" rx="3"/><path d="M-6 0h12"/><text y="-2" style="font-size:6px">环</text><text y="8.5">19</text></g>
<g class="m cg" transform="translate(1073,603)"><rect x="-9" y="-10" width="18" height="20" rx="3"/><path d="M-6 0h12"/><text y="-2" style="font-size:6px">环</text><text y="8.5">20</text></g>
<g class="m cg" transform="translate(1073,712)"><rect x="-9" y="-10" width="18" height="20" rx="3"/><path d="M-6 0h12"/><text y="-2" style="font-size:6px">环</text><text y="8.5">22</text></g>
<g class="m cl" transform="translate(1025,768)"><rect x="-9" y="-10" width="18" height="20" rx="3"/><path d="M-6 0h12"/><text y="-2" style="font-size:6px">环</text><text y="8.5">23</text></g>
<g class="m cg" transform="translate(982,820)"><rect x="-9" y="-10" width="18" height="20" rx="3"/><path d="M-6 0h12"/><text y="-2" style="font-size:6px">环</text><text y="8.5">24</text></g>
<g class="m cl" transform="translate(825,832)"><rect x="-9" y="-10" width="18" height="20" rx="3"/><path d="M-6 0h12"/><text y="-2" style="font-size:6px">环</text><text y="8.5">26</text></g>
<g class="m cl" transform="translate(775,834)"><rect x="-9" y="-10" width="18" height="20" rx="3"/><path d="M-6 0h12"/><text y="-2" style="font-size:6px">环</text><text y="8.5">27</text></g>
<g class="m cg" transform="translate(375,677)"><rect x="-9" y="-10" width="18" height="20" rx="3"/><path d="M-6 0h12"/><text y="-2" style="font-size:6px">环</text><text y="8.5">05</text></g>
<g class="m cg" transform="translate(375,738)"><rect x="-9" y="-10" width="18" height="20" rx="3"/><path d="M-6 0h12"/><text y="-2" style="font-size:6px">环</text><text y="8.5">04</text></g>

<!-- transfer boxes -->
<g class="x" transform="translate(588,145)"><rect x="-16" y="-13" width="32" height="26" rx="5"/><text y="4">悦来</text></g>
<g class="x" transform="translate(465,268)"><rect x="-16" y="-13" width="32" height="26" rx="5"/><text y="4">礼嘉</text></g>
<g class="x" transform="translate(548,418)"><rect x="-16" y="-17" width="32" height="34" rx="5"/><text y="-3">冉家</text><text y="12">坝</text></g>
<g class="x" transform="translate(548,497)"><rect x="-16" y="-17" width="32" height="34" rx="5"/><text y="-3">大龙</text><text y="12">山</text></g>
<g class="x" transform="translate(672,502)"><rect x="-16" y="-17" width="32" height="34" rx="5"/><text y="-3">红旗</text><text y="12">河沟</text></g>
<g class="x" transform="translate(830,503)"><rect x="-16" y="-17" width="32" height="34" rx="5"/><text y="-3">红土</text><text y="12">地</text></g>
<g class="x" transform="translate(763,408)"><rect x="-16" y="-17" width="32" height="34" rx="5"/><text y="-3">民安</text><text y="12">大道</text></g>
<g class="x" transform="translate(838,386)"><rect x="-14" y="-18" width="28" height="36" rx="5"/><text y="-7" style="font-size:7px">重庆</text><text y="2" style="font-size:7px">北站</text><text y="11" style="font-size:7px">北广场</text></g>
<g class="x" transform="translate(825,426)"><rect x="-14" y="-18" width="28" height="36" rx="5"/><text y="-7" style="font-size:7px">重庆</text><text y="2" style="font-size:7px">北站</text><text y="11" style="font-size:7px">南广场</text></g>
<g class="x" transform="translate(985,496)"><rect x="-16" y="-17" width="32" height="34" rx="5"/><text y="-3">五里</text><text y="12">店</text></g>
<g class="x" transform="translate(375,605)"><rect x="-16" y="-17" width="32" height="34" rx="5"/><text y="-3">沙坪</text><text y="12">坝</text></g>
<g class="x" transform="translate(750,640)"><rect x="-16" y="-17" width="32" height="34" rx="5"/><text y="-3">牛角</text><text y="12">沱</text></g>
<g class="x" transform="translate(812,702)"><rect x="-16" y="-17" width="32" height="34" rx="5"/><text y="-3">两路</text><text y="12">口</text></g>
<g class="x" transform="translate(681,745)"><rect x="-16" y="-15" width="32" height="30" rx="5"/><text y="4">大坪</text></g>
<g class="x" transform="translate(972,670)"><rect x="-16" y="-17" width="32" height="34" rx="5"/><text y="-3">较场</text><text y="12">口</text></g>
<g class="x" transform="translate(1003,635)"><rect x="-16" y="-17" width="32" height="34" rx="5"/><text y="-3">小什</text><text y="12">字</text></g>
<g class="x" transform="translate(1073,642)"><rect x="-16" y="-17" width="32" height="34" rx="5"/><text y="-3">上新</text><text y="12">街</text></g>
<g class="x" transform="translate(880,832)"><rect x="-16" y="-17" width="32" height="34" rx="5"/><text y="-3">四公</text><text y="12">里</text></g>
<g class="x" transform="translate(593,1130)"><rect x="-16" y="-17" width="32" height="34" rx="5"/><text y="4">鱼洞</text></g>
<g class="x" transform="translate(1213,172)"><rect x="-16" y="-17" width="32" height="34" rx="5"/><text y="4">碧津</text></g>
<g class="x" transform="translate(1343,183)"><rect x="-14" y="-18" width="28" height="36" rx="5"/><text y="-7" style="font-size:7px">江北机</text><text y="2" style="font-size:7px">场T2航</text><text y="11" style="font-size:7px">站楼</text></g>

<!-- station names -->
<g class="n">
<text x="56" y="430">尖顶坡</text><text x="107" y="430">大学城</text><text x="157" y="430">陈家桥</text><text x="208" y="430">微电园</text><text x="258" y="430">赖家桥</text>
<text x="308" y="435">双碑</text><text x="295" y="471">石井坡</text><text x="296" y="508">磁器口</text><text x="296" y="541">烈士墓</text><text x="296" y="570">杨公桥</text>
<text x="448" y="659">小龙坎</text><text x="384" y="707">马家岩</text><text x="458" y="725">高庙村</text><text x="519" y="725">石桥铺</text><text x="577" y="723">歇台子</text><text x="621" y="723">石油路</text><text x="735" y="722">鹅岭</text><text x="870" y="678">七星岗</text>
<text x="111" y="178">北碚</text><text x="168" y="178">天生</text><text x="220" y="178">状元碑</text><text x="276" y="178">龙凤溪</text><text x="340" y="178">向家岗</text>
<text x="430" y="168">蔡家</text><text x="394" y="202">曹家湾</text><text x="479" y="240">金山寺</text><text x="528" y="293">欢乐谷</text><text x="479" y="300">九曲河</text><text x="479" y="324">康庄</text><text x="479" y="348">大竹林</text><text x="488" y="375">光电园</text>
<text x="470" y="526">玉带山</text><text x="591" y="528">花卉园</text><text x="735" y="529">黄泥磅</text><text x="947" y="541">江北城</text><text x="947" y="581">大剧院</text>
<text x="1177" y="731">刘家坪</text><text x="1237" y="803">长生桥</text><text x="1237" y="833">邱家湾</text><text x="1237" y="863">茶园</text>
<text x="601" y="188">国博中心</text><text x="601" y="222">高义口</text><text x="601" y="256">黄茅坪</text><text x="614" y="104">王家庄</text>
<text x="710" y="218">园博中心</text><text x="738" y="247">丹鹤</text><text x="724" y="275">湖霞街</text><text x="737" y="311">重光</text><text x="686" y="324">和睦路</text><text x="629" y="324">人和</text><text x="558" y="324">幸福广场</text><text x="501" y="561">大石坝</text>
<text x="826" y="197">翠云</text><text x="884" y="241">长福路</text><text x="960" y="241">回兴</text><text x="1093" y="199">双龙</text>
<text x="826" y="245">园博园</text><text x="826" y="269">鸳鸯</text><text x="826" y="293">金童路</text><text x="826" y="317">金渝</text><text x="826" y="341">童家院子</text><text x="761" y="365">龙头寺</text>
<text x="775" y="469">狮子坪</text><text x="716" y="469">唐家院子</text><text x="619" y="469">嘉州路</text><text x="621" y="565">观音桥</text><text x="719" y="598">华新街</text>
<text x="762" y="761">铜元局</text><text x="792" y="784">工贸</text><text x="815" y="806">南坪</text>
<text x="895" y="874">五公里</text><text x="895" y="904">六公里</text><text x="895" y="934">二塘</text><text x="895" y="964">八公里</text><text x="895" y="994">麒龙</text><text x="882" y="1034">九公里</text><text x="850" y="1064">岔路口</text><text x="818" y="1094">花溪</text><text x="793" y="1122">大山村</text>
<text x="724" y="1156">学堂湾</text><text x="676" y="1156">鱼胡路</text><text x="636" y="1156">金竹</text>
<text x="1217" y="63">空港广场</text><text x="1310" y="68">高堡湖</text><text x="1360" y="68">观月路</text><text x="1420" y="68">莲花</text><text x="1465" y="68">举人坝</text><text x="1206" y="97">双凤桥</text>
<text x="791" y="111">中央公园西</text><text x="914" y="111">中央公园</text><text x="1000" y="111">中央公园东</text><text x="1110" y="111">鹿山</text><text x="1145" y="111">渝北广场</text>
<text x="1353" y="244">江北机场T3航站楼</text><text x="1229" y="262">长河</text><text x="1128" y="262">环山公园</text><text x="1025" y="262">上湾路</text><text x="955" y="308">三亚湾</text><text x="891" y="332">民心佳园</text>
<text x="845" y="459">龙头寺</text><text x="845" y="474">公园</text><text x="847" y="552">鲤鱼池</text>
<text x="972" y="374">头塘</text><text x="1016" y="338">保税港</text><text x="1072" y="338">寸滩</text><text x="1110" y="338">黑石子</text><text x="1178" y="364" class="g">港城</text><text x="1205" y="391">太平冲</text><text x="1230" y="419">唐家沱</text>
<text x="803" y="627">曾家岩</text><text x="849" y="627">大溪沟</text><text x="918" y="606">黄花园</text><text x="943" y="631">临江门</text><text x="728" y="673">李子坝</text><text x="702" y="698">佛图关</text>
<text x="697" y="791">袁家岗</text><text x="697" y="829">谢家湾</text><text x="697" y="866">杨家坪</text><text x="685" y="894">动物园</text><text x="617" y="916">大堰村</text><text x="578" y="873">马王场</text><text x="527" y="891">平安</text><text x="548" y="921">大渡口</text><text x="521" y="944">新山村</text><text x="495" y="968">天堂堡</text>
<text x="490" y="993">建桥</text><text x="490" y="1019">金家湾</text><text x="490" y="1045">刘家坝</text><text x="490" y="1073">白居寺</text><text x="472" y="1153">大江</text>
<text x="479" y="446">体育公园</text><text x="479" y="482" class="g">南桥寺</text><text x="418" y="576">沙正街</text><text x="322" y="678" class="g">天星桥</text><text x="293" y="736">重庆图书馆</text>
<text x="677" y="426">郑家院子</text><text x="575" y="397">动步公园</text><text x="635" y="397">洪湖东路</text><text x="923" y="467">渝鲁</text>
<text x="1085" y="523" class="g">弹子石</text><text x="1085" y="567">涂山</text><text x="1085" y="605" class="g">仁济</text><text x="1085" y="713" class="g">上浩</text><text x="1038" y="771">海棠溪</text><text x="995" y="823" class="g">罗家坝</text>
<text x="812" y="858">南湖</text><text x="755" y="858">海峡路</text><text x="1013" y="588" class="g">朝天门</text>
</g>
<g class="e">
<text x="566" y="412">Ranjiaba</text><text x="564" y="498">Dalongshan</text><text x="690" y="498">Hongqihegou</text><text x="849" y="498">Hongtudi</text><text x="1004" y="488">Wulidian</text><text x="393" y="600">Shapingba</text><text x="768" y="642">Niujiaotuo</text><text x="830" y="696">Lianglukou</text><text x="699" y="749">Daping</text><text x="990" y="670">Jiaochangkou</text><text x="1021" y="636">Xiaoshizi</text><text x="1091" y="645">Shangxinjie</text><text x="898" y="828">Sigongli</text><text x="611" y="1126">Yudong</text><text x="1231" y="175">Bijin</text><text x="606" y="147">Yuelai</text><text x="781" y="407">Min'an Ave.</text><text x="1361" y="175">Terminal 2 of</text><text x="1361" y="181">Jiangbei Airport</text>
<text x="868" y="381">Chongqing North</text><text x="864" y="388">Station North Square</text><text x="848" y="430">Chongqing North</text><text x="845" y="437">Station South Square</text>
</g>

<!-- icons -->
<use href="#bus" x="231" y="123" width="18" height="10"/><use href="#bus" x="231" y="134" width="18" height="10"/>
<use href="#bus" x="269" y="371" width="18" height="10"/><use href="#bus" x="269" y="382" width="18" height="10"/>
<use href="#bus" x="432" y="318" width="20" height="11"/>
<use href="#bus" x="633" y="490" width="20" height="10"/><use href="#bus" x="633" y="501" width="20" height="10"/>
<use href="#bus" x="868" y="388" width="18" height="10"/><use href="#bus" x="890" y="388" width="18" height="10"/>
<use href="#bus" x="868" y="415" width="18" height="10"/><use href="#bus" x="892" y="415" width="18" height="10"/>
<use href="#trn" x="849" y="386" width="18" height="11"/><use href="#trn" x="842" y="414" width="22" height="12"/>
<use href="#bus" x="946" y="480" width="20" height="10"/>
<use href="#bus" x="1273" y="90" width="20" height="10"/><use href="#bus" x="1273" y="101" width="20" height="10"/>
<use href="#trn" x="393" y="602" width="22" height="10"/><use href="#bus" x="395" y="613" width="20" height="9"/>
<use href="#trn" x="802" y="652" width="22" height="10"/><use href="#bus" x="802" y="664" width="20" height="10"/><use href="#bus" x="802" y="675" width="20" height="10"/>
<use href="#bus" x="845" y="768" width="20" height="10"/><use href="#bus" x="900" y="829" width="20" height="10"/><use href="#bus" x="900" y="841" width="20" height="10"/>
<use href="#bus" x="703" y="843" width="20" height="10"/><use href="#bus" x="643" y="906" width="20" height="10"/><use href="#bus" x="566" y="935" width="20" height="10"/>
<use href="#bus" x="685" y="1097" width="20" height="10"/><use href="#bus" x="685" y="1109" width="20" height="10"/>
<use href="#bus" x="1187" y="793" width="22" height="10"/><use href="#bus" x="1187" y="804" width="22" height="10"/>
<use href="#bus" x="1000" y="598" width="22" height="10"/>
<use href="#bus" x="1305" y="172" width="20" height="10"/><use href="#bus" x="1305" y="240" width="20" height="10"/>
<text x="1306" y="170" style="font-size:16px">✈</text><text x="1306" y="238" style="font-size:16px">✈</text>

<!-- legend -->
<text x="1123" y="1000" style="font-size:19px">图例</text><text x="1172" y="1000" style="font-size:11px">Legend</text>
<g class="m c3" transform="translate(1146,1028)"><rect x="-7" y="-8" width="14" height="16" rx="2" style="stroke:#222"/><path d="M-5 0h10"/><text y="-2" style="font-size:6px">3</text><text y="6" style="font-size:6px">12</text></g>
<g class="x" transform="translate(1146,1054)"><rect x="-12" y="-13" width="24" height="26" rx="4"/><text y="3" style="font-size:7px">鱼洞</text></g>
<use href="#trn" x="1130" y="1073" width="32" height="14"/>
<text x="1133" y="1116" style="font-size:24px">✈</text>
<use href="#bus" x="1132" y="1126" width="26" height="13"/><use href="#bus" x="1132" y="1151" width="26" height="13"/>
<path d="M1133,1184 H1158 L1155,1190 H1136 Z M1140,1184 V1178 H1150 V1184 M1144,1178 V1173" fill="#111" stroke="#111"/>
<g style="font-size:13px"><text x="1184" y="1033">普通车站</text><text x="1184" y="1059">换乘车站</text><text x="1184" y="1085">火车换乘站</text><text x="1184" y="1111">机场换乘站</text><text x="1184" y="1137">公交枢纽</text><text x="1184" y="1162">客运车站</text><text x="1184" y="1188">航运换乘站</text></g>
<text x="1312" y="1000" style="font-size:19px">线路色彩</text><text x="1405" y="1000" style="font-size:11px">Line Color</text>
<path d="M1312,1009 H1460" stroke="#222" stroke-width="1.5"/>
<g style="font-size:16px;text-anchor:middle">
<rect x="1312" y="1018" width="36" height="20" fill="#e3002b"/><text x="1330" y="1035" style="fill:#fff">1</text>
<rect x="1312" y="1050" width="36" height="20" fill="#00923f"/><text x="1330" y="1067" style="fill:#fff">2</text>
<rect x="1312" y="1082" width="36" height="20" fill="#183a8c"/><text x="1330" y="1099" style="fill:#fff">3</text>
<rect x="1312" y="1114" width="36" height="20" fill="#f08c00"/><text x="1330" y="1131" style="fill:#fff">4</text>
<rect x="1312" y="1147" width="36" height="20" fill="#0098dd"/><text x="1330" y="1164" style="fill:#fff">5</text>
<rect x="1312" y="1178" width="36" height="20" fill="#e8628c"/><text x="1330" y="1195" style="fill:#fff">6</text>
<rect x="1312" y="1210" width="36" height="20" fill="#5a2b87"/><text x="1330" y="1227" style="fill:#fff">10</text>
<rect x="1312" y="1242" width="36" height="20" fill="#d8c283"/><text x="1330" y="1259" style="fill:#fff">环</text>
<rect x="1312" y="1273" width="36" height="20" fill="#c8c8c8"/>
</g>
<g style="font-size:13px"><text x="1368" y="1033">轨道交通1号线(地铁)</text><text x="1368" y="1065">轨道交通2号线(单轨)</text><text x="1368" y="1097">轨道交通3号线(单轨)</text><text x="1368" y="1129">轨道交通4号线(地铁)</text><text x="1368" y="1162">轨道交通5号线(地铁)</text><text x="1368" y="1193">轨道交通6号线(地铁)</text><text x="1368" y="1225">轨道交通10号线(地铁)</text><text x="1368" y="1257">轨道交通环线(地铁)</text><text x="1368" y="1287" style="font-weight:bold">暂未开通站点</text></g>
</svg>
</body></html>
